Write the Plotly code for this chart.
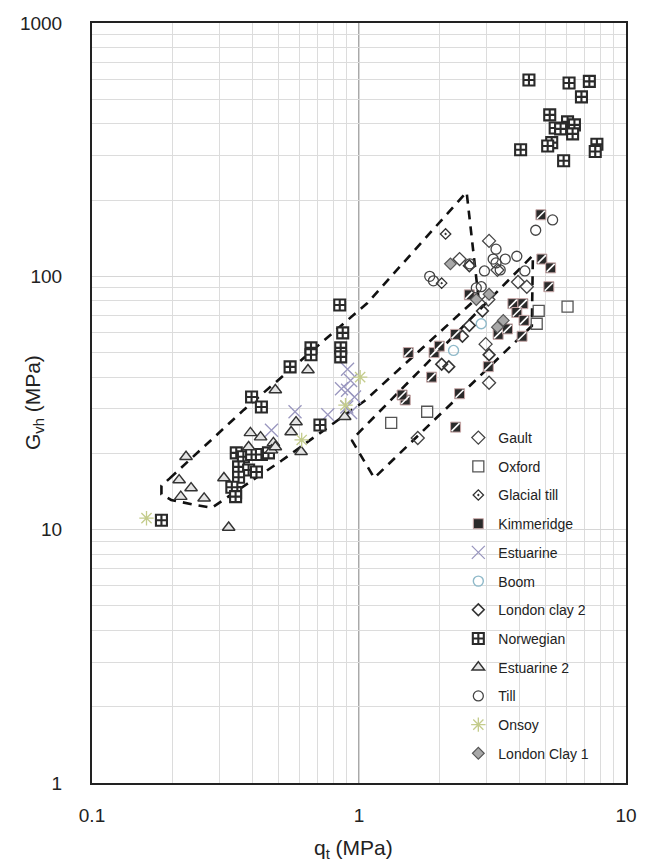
import plotly.graph_objects as go

# ---------------- data (q_t in MPa, G_vh in MPa) ----------------
gault_q = [2.38, 3.07, 3.05, 3.07, 2.98, 1.66, 3.94, 4.25, 3.3]
gault_g = [117, 138, 81, 38, 54, 23, 95, 91, 106]

oxford_q = [6.04, 4.71, 4.63, 1.80, 1.32]
oxford_g = [76, 73, 65, 29.2, 26.4]

glacial_q = [2.11, 2.04]
glacial_g = [147, 94]

kimm_q = [4.80, 4.84, 5.22, 5.14, 3.77, 4.11, 3.90, 4.15, 4.08, 3.32, 2.59, 2.30,
          1.91, 1.87, 3.05, 1.53, 1.49, 2.38, 2.30, 1.45, 2.0, 3.6]
kimm_g = [175, 117, 108, 91, 78, 78, 72, 67, 58, 59, 84.5, 59,
          50, 40, 44, 50, 32.5, 34.4, 25.4, 34, 53, 62]

estu_q = [0.906, 0.93, 0.906, 0.962, 0.93, 0.764, 0.576, 0.47, 0.9, 0.86]
estu_g = [43, 38.8, 35.5, 33.4, 29, 28.4, 29.2, 24.7, 30.5, 36]

boom_q = [2.87, 2.26]
boom_g = [65, 51]

lc2_q = [2.59, 2.59, 2.44, 2.17, 2.04, 3.07, 2.9]
lc2_g = [110, 64, 58, 44, 45, 49, 73]

norw_q = [0.847, 0.869, 0.854, 0.854, 0.661, 0.661, 0.552, 0.396, 0.431, 0.714,
          0.345, 0.182, 0.347, 0.369, 0.396, 0.431, 0.354, 0.386, 0.413, 0.354,
          0.334, 0.345, 0.458,
          4.33, 6.12, 7.29, 6.81, 5.18, 6.04, 5.43, 6.41, 6.31, 5.69, 5.27, 5.09,
          4.03, 7.78, 7.67, 5.84]
norw_g = [77.1, 59.8, 52.2, 48.1, 52.2, 49, 43.9, 33.4, 30.5, 25.9,
          14, 10.9, 20.1, 19.4, 19.8, 19.8, 17.7, 17.2, 16.9, 16.1,
          14.7, 13.5, 20.1,
          596, 580, 588, 511, 434, 407, 385, 396, 365, 382, 337, 327,
          316, 332, 311, 286]

estu2_q = [0.644, 0.486, 0.392, 0.428, 0.478, 0.470, 0.581, 0.557, 0.607, 0.312,
           0.225, 0.212, 0.235, 0.263, 0.215, 0.325, 0.884, 0.486, 0.386]
estu2_g = [42.7, 35.6, 24.1, 23.2, 22, 20.6, 26.6, 24.3, 20.3, 16,
           19.4, 15.7, 14.6, 13.3, 13.5, 10.2, 27.9, 21.2, 21.2]

till_q = [5.31, 4.59, 3.26, 3.18, 3.38, 1.84, 3.53, 3.90, 4.18, 2.95, 2.87, 2.75,
          3.26, 1.9, 2.6]
till_g = [167, 152, 128, 117, 106, 100, 117, 120, 105, 105, 91, 90,
          113, 96, 112]

onsoy_q = [0.16, 1.01, 0.61, 0.89]
onsoy_g = [11.1, 40, 22.6, 31]

lc1_q = [2.75, 3.07, 3.47, 3.3, 2.2]
lc1_g = [81, 85, 67, 63, 112]

# dashed zone boundaries
zoneA_q = [0.195, 0.370, 1.075, 2.53, 2.80, 1.048, 0.512, 0.281, 0.245, 0.198, 0.182, 0.182, 0.195]
zoneA_g = [15.9, 29.7, 78.5, 215, 83, 32.2, 18.7, 12.2, 12.5, 13.1, 13.8, 14.9, 15.9]
zoneB_q = [0.938, 1.14, 4.44, 4.48, 0.938]
zoneB_g = [22.6, 16.0, 63.7, 121, 22.6]

FONT = "Liberation Sans, Arial, sans-serif"

fig = go.Figure()

def add(name, q, g, marker, group):
    fig.add_trace(go.Scatter(x=q, y=g, mode="markers", name=name, marker=marker,
                             legendgroup=group, cliponaxis=False))

# zone outlines
for zq, zg in [(zoneA_q, zoneA_g), (zoneB_q, zoneB_g)]:
    fig.add_trace(go.Scatter(x=zq, y=zg, mode="lines", showlegend=False,
                             line=dict(color="#111", width=2.6, dash="9px,7px"),
                             hoverinfo="skip"))

add("Gault", gault_q, gault_g,
    dict(symbol="diamond-open", size=10, color="#444", line=dict(width=1.3)), "g1")
add("Oxford", oxford_q, oxford_g,
    dict(symbol="square-open", size=11, color="#555", line=dict(width=1.3)), "g2")
add("Glacial till", glacial_q, glacial_g,
    dict(symbol="diamond-open-dot", size=8, color="#333", line=dict(width=1.3)), "g3")
add("Kimmeridge", kimm_q, kimm_g,
    dict(symbol="square", size=10, color="#2a2a2a", line=dict(width=1, color="#c9a9a9")), "g4")
fig.add_trace(go.Scatter(x=kimm_q, y=kimm_g, mode="markers", showlegend=False, legendgroup="g4",
                         marker=dict(symbol="line-ne", size=8, line=dict(width=1.6, color="white")),
                         hoverinfo="skip"))
add("Estuarine", estu_q, estu_g,
    dict(symbol="x-thin-open", size=13, color="#9a97bf", line=dict(width=1.3, color="#9a97bf")), "g5")
add("Boom", boom_q, boom_g,
    dict(symbol="circle-open", size=10, color="#8fb9c9", line=dict(width=1.4)), "g6")
add("London clay 2", lc2_q, lc2_g,
    dict(symbol="diamond-open", size=9, color="#333", line=dict(width=1.6)), "g7")
add("Norwegian", norw_q, norw_g,
    dict(symbol="square-cross", size=11, color="white", line=dict(width=2.1, color="#2a2a2a")), "g8")
add("Estuarine 2", estu2_q, estu2_g,
    dict(symbol="triangle-up", size=11, color="#e4e4e4", line=dict(width=1.4, color="#333")), "g9")
add("Till", till_q, till_g,
    dict(symbol="circle-open", size=10, color="#444", line=dict(width=1.3)), "g10")
add("Onsoy", onsoy_q, onsoy_g,
    dict(symbol="asterisk-open", size=12, color="#c4cc8c", line=dict(width=1.3, color="#c4cc8c")), "g11")
add("London Clay 1", lc1_q, lc1_g,
    dict(symbol="diamond", size=9, color="#a8a8a8", line=dict(width=1.2, color="#555")), "g12")

minor_x = [k * 10 ** e for e in (-1, 0) for k in range(2, 10)]
minor_y = [k * 10 ** e for e in (0, 1, 2) for k in range(2, 10)]

axis_common = dict(
    type="log", showgrid=True, gridcolor="#d6d6d6", gridwidth=1,
    showline=True, mirror=True, linecolor="#222", linewidth=2,
    ticks="", zeroline=False,
    tickfont=dict(family=FONT, size=19, color="#222"),
)

fig.update_xaxes(**axis_common, range=[-1, 1], tickvals=[0.1, 1, 10], ticktext=["0.1", "1", "10"],
                 ticklabelstandoff=14,
                 minor=dict(tickmode="array", tickvals=minor_x, showgrid=True, gridcolor="#dcdcdc"))
fig.update_yaxes(**axis_common, range=[0, 3], tickvals=[1, 10, 100, 1000],
                 ticktext=["1", "10", "100", "1000"], ticklabelstandoff=24,
                 minor=dict(tickmode="array", tickvals=minor_y, showgrid=True, gridcolor="#dcdcdc"))

fig.add_shape(type="line", xref="x", yref="paper", x0=1, x1=1, y0=0, y1=1,
              line=dict(color="#8c8c8c", width=1.5), layer="below")

fig.add_annotation(text="G<sub>vh</sub> (MPa)", xref="paper", yref="paper", x=0, y=0.5,
                   xshift=-58, textangle=-90, showarrow=False,
                   font=dict(family=FONT, size=21, color="#222"),
                   xanchor="center", yanchor="middle")
fig.add_annotation(text="q<sub>t</sub> (MPa)", xref="paper", yref="paper", x=0.49, y=0,
                   yshift=-66, showarrow=False,
                   font=dict(family=FONT, size=21, color="#222"),
                   xanchor="center", yanchor="middle")

fig.update_layout(
    width=649, height=867,
    margin=dict(l=92, r=18, t=23, b=84),
    paper_bgcolor="white", plot_bgcolor="white",
    font=dict(family=FONT, color="#222"),
    showlegend=True,
    legend=dict(x=0.686, y=0.475, xanchor="left", yanchor="top",
                bgcolor="rgba(0,0,0,0)", borderwidth=0,
                font=dict(family=FONT, size=14, color="#222"),
                tracegroupgap=7.5, itemsizing="trace"),
)

# remove the default page margin so the 649x867 figure fills the window exactly
fig.write_html("out.html", config={"displayModeBar": False},
               post_script="document.body.style.margin='0';document.body.style.overflow='hidden';")
